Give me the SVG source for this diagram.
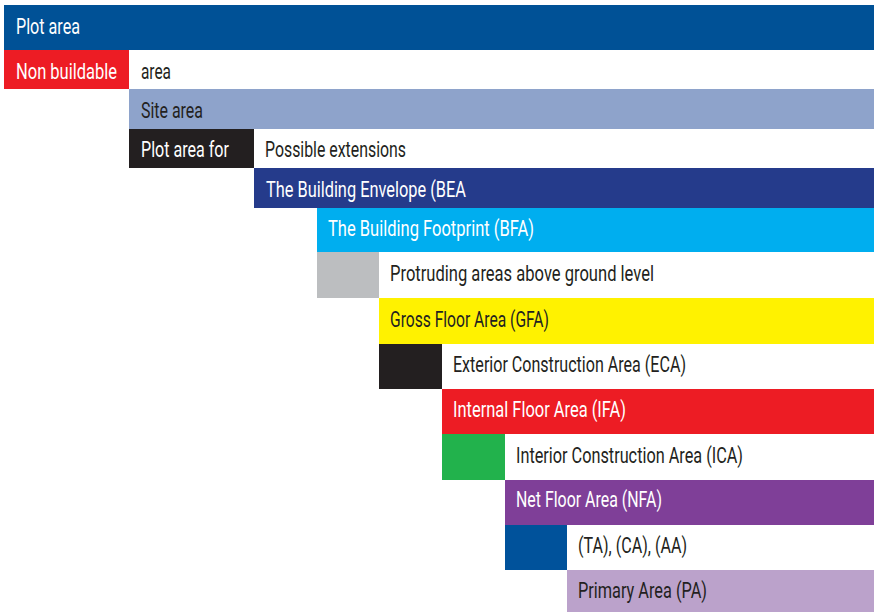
<svg xmlns="http://www.w3.org/2000/svg" width="874" height="612" viewBox="0 0 874 612">
<style>
text{font-family:"Liberation Sans Narrow",Roboto,"DejaVu Sans Condensed",sans-serif;font-size:21.5px;}
.w{fill:#ffffff;}
.d{fill:#231f20;}
</style>
<rect x="0" y="0" width="874" height="612" fill="#ffffff"/>
<g id="plot-area">
<rect x="4" y="5" width="870" height="45" fill="#005196"/>
<text class="w" transform="scale(0.8,1)" x="20" y="34" textLength="80" lengthAdjust="spacingAndGlyphs">Plot area</text>
</g>
<g id="non-buildable">
<rect x="4" y="50" width="125" height="39" fill="#ed1c24"/>
<text class="w" transform="scale(0.8,1)" x="20" y="79" textLength="126.25" lengthAdjust="spacingAndGlyphs">Non buildable</text>
<text class="d" transform="scale(0.8,1)" x="176.25" y="79" textLength="37.5" lengthAdjust="spacingAndGlyphs">area</text>
</g>
<g id="site-area">
<rect x="129" y="89" width="745" height="40" fill="#8ea3cb"/>
<text class="d" transform="scale(0.8,1)" x="176.25" y="118" textLength="77.5" lengthAdjust="spacingAndGlyphs">Site area</text>
</g>
<g id="plot-area-for">
<rect x="129" y="129" width="125" height="39" fill="#231f20"/>
<text class="w" transform="scale(0.8,1)" x="176.25" y="157" textLength="110" lengthAdjust="spacingAndGlyphs">Plot area for</text>
<text class="d" transform="scale(0.8,1)" x="331.25" y="157" textLength="176.25" lengthAdjust="spacingAndGlyphs">Possible extensions</text>
</g>
<g id="bea">
<rect x="254" y="168" width="620" height="40" fill="#253b8b"/>
<text class="w" transform="scale(0.8,1)" x="332.5" y="197" textLength="250" lengthAdjust="spacingAndGlyphs">The Building Envelope (BEA</text>
</g>
<g id="bfa">
<rect x="317" y="208" width="557" height="44" fill="#00aeef"/>
<text class="w" transform="scale(0.8,1)" x="410" y="236" textLength="257.5" lengthAdjust="spacingAndGlyphs">The Building Footprint (BFA)</text>
</g>
<g id="protruding">
<rect x="317" y="252" width="62" height="46" fill="#bcbec0"/>
<text class="d" transform="scale(0.8,1)" x="487.5" y="281" textLength="330" lengthAdjust="spacingAndGlyphs">Protruding areas above ground level</text>
</g>
<g id="gfa">
<rect x="379" y="298" width="495" height="46" fill="#fff200"/>
<text class="d" transform="scale(0.8,1)" x="487.5" y="327" textLength="198.75" lengthAdjust="spacingAndGlyphs">Gross Floor Area (GFA)</text>
</g>
<g id="eca">
<rect x="379" y="344" width="63" height="45" fill="#231f20"/>
<text class="d" transform="scale(0.8,1)" x="566.25" y="372" textLength="291.25" lengthAdjust="spacingAndGlyphs">Exterior Construction Area (ECA)</text>
</g>
<g id="ifa">
<rect x="442" y="389" width="432" height="45" fill="#ed1c24"/>
<text class="w" transform="scale(0.8,1)" x="566.25" y="417" textLength="216.25" lengthAdjust="spacingAndGlyphs">Internal Floor Area (IFA)</text>
</g>
<g id="ica">
<rect x="442" y="434" width="63" height="46" fill="#22b24c"/>
<text class="d" transform="scale(0.8,1)" x="645" y="463" textLength="283.75" lengthAdjust="spacingAndGlyphs">Interior Construction Area (ICA)</text>
</g>
<g id="nfa">
<rect x="505" y="480" width="369" height="45" fill="#7f3f98"/>
<text class="w" transform="scale(0.8,1)" x="645" y="507" textLength="182.5" lengthAdjust="spacingAndGlyphs">Net Floor Area (NFA)</text>
</g>
<g id="ta-ca-aa">
<rect x="505" y="525" width="62" height="45" fill="#00529b"/>
<text class="d" transform="scale(0.8,1)" x="722.5" y="553" textLength="136.25" lengthAdjust="spacingAndGlyphs">(TA), (CA), (AA)</text>
</g>
<g id="pa">
<rect x="567" y="570" width="307" height="42" fill="#bba2cb"/>
<text class="d" transform="scale(0.8,1)" x="722.5" y="598" textLength="161.25" lengthAdjust="spacingAndGlyphs">Primary Area (PA)</text>
</g>
<g id="connectors"></g>
</svg>
